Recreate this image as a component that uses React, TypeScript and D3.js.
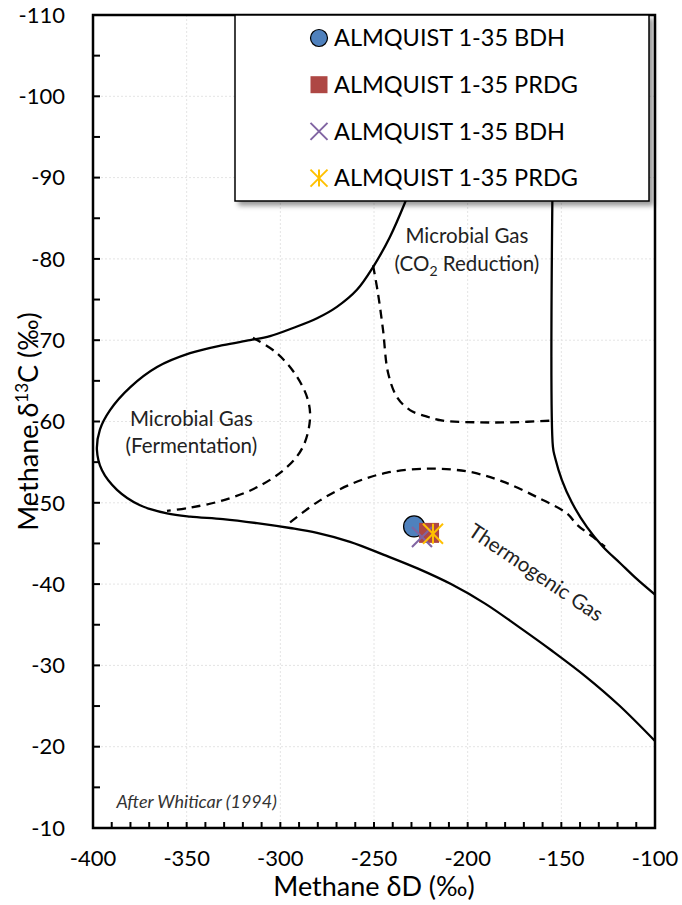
import { useEffect, useRef } from 'react';
import * as d3 from 'd3';

// Whiticar (1994) field boundaries, [deltaD, delta13C]
const outerBoundary: [number, number][] = [
  [-222.8, -93.4], [-233.5, -86.9], [-241.5, -82.7], [-250.5, -79.0], [-259.1, -76.2],
  [-269.8, -74.1], [-280.4, -72.7], [-293.2, -71.5], [-305.5, -70.5], [-316.2, -70.0],
  [-330.6, -69.4], [-348.2, -68.4], [-365.8, -66.7], [-380.2, -64.2], [-390.9, -61.4],
  [-396.3, -59.0], [-397.9, -56.5], [-395.2, -54.0], [-387.2, -51.6], [-374.9, -49.7],
  [-360.5, -48.7], [-348.2, -48.3], [-330.6, -48.0], [-312.5, -47.5], [-294.8, -46.9],
  [-280.4, -46.3], [-262.8, -45.2], [-244.7, -43.6], [-226.5, -41.9], [-208.9, -40.0],
  [-190.7, -37.6], [-173.1, -34.8], [-155.0, -31.8], [-136.8, -28.6], [-119.2, -25.1],
  [-100, -20.7],
];
const rightBoundary: [number, number][] = [
  [-154.5, -93.4], [-154.5, -56.9], [-153.4, -55.6], [-149.7, -52.8], [-144.3, -50.0],
  [-136.3, -47.0], [-127.8, -44.6], [-118.7, -42.6], [-109.6, -40.6], [-100, -38.7],
];
const fermentationDash: [number, number][] = [
  [-314.6, -70.3], [-301.8, -68.4], [-291.1, -65.5], [-285.2, -62.6], [-284.2, -60.2],
  [-287.9, -56.9], [-296.4, -54.4], [-312.5, -51.9], [-330.6, -50.3], [-348.2, -49.4],
  [-360.5, -49.0],
];
const co2Dash: [number, number][] = [
  [-250.5, -79.2], [-247.9, -75.8], [-245.2, -71.3], [-242.5, -66.0], [-237.7, -63.0],
  [-230.8, -61.4], [-221.7, -60.6], [-213.2, -60.1], [-195.0, -59.9], [-177.4, -59.9],
  [-155.5, -60.1],
];
const thermoDash: [number, number][] = [
  [-294.8, -47.6], [-278.8, -50.3], [-261.2, -52.4], [-243.1, -53.7], [-220.1, -54.2],
  [-198.8, -53.8], [-181.1, -52.6], [-163.0, -50.7], [-147.0, -48.7], [-141.6, -47.3],
  [-133.1, -45.8], [-126.7, -44.6],
];

const seriesNames = ['ALMQUIST 1-35 BDH', 'ALMQUIST 1-35 PRDG', 'ALMQUIST 1-35 BDH', 'ALMQUIST 1-35 PRDG'];
const seriesMarkers = ['circle', 'square', 'x', 'star'];
const seriesColors = ['#4F81BD', '#AE4744', '#8064A2', '#FFC000'];
const seriesPoints: [number, number][] = [[-228.6, -47.1], [-220.6, -46.3], [-224.4, -45.8], [-218.5, -46.2]];

const xTicks = [-400, -350, -300, -250, -200, -150, -100];
const yTicks = [-110, -100, -90, -80, -70, -60, -50, -40, -30, -20, -10];

const FONT = 'Lato, "Open Sans", sans-serif';

function drawMarker(g: d3.Selection<SVGGElement, unknown, null, undefined>, kind: string, color: string, cx: number, cy: number, s: number) {
  if (kind === 'circle') {
    g.append('circle').attr('cx', cx).attr('cy', cy).attr('r', s / 2).attr('fill', color).attr('stroke', '#000').attr('stroke-width', 1.2);
  } else if (kind === 'square') {
    g.append('rect').attr('x', cx - s / 2).attr('y', cy - s / 2).attr('width', s).attr('height', s).attr('fill', color);
  } else {
    const h = s / 2;
    const segs: [number, number, number, number][] = [[-h, -h, h, h], [-h, h, h, -h]];
    if (kind === 'star') segs.push([0, -h, 0, h]);
    segs.forEach(([a, b, c, d]) => {
      g.append('line').attr('x1', cx + a).attr('y1', cy + b).attr('x2', cx + c).attr('y2', cy + d)
        .attr('stroke', color).attr('stroke-width', 2);
    });
  }
}

export default function App() {
  const svgRef = useRef<SVGSVGElement>(null);

  useEffect(() => {
    document.body.style.margin = '0';
    if (!svgRef.current) return;
    const svg = d3.select(svgRef.current);
    svg.selectAll('*').remove();

    const left = 93, right = 655, top = 15, bottom = 828;
    const x = d3.scaleLinear().domain([-400, -100]).range([left, right]);
    const y = d3.scaleLinear().domain([-110, -10]).range([top, bottom]);

    const defs = svg.append('defs');
    const f = defs.append('filter').attr('id', 'shadow').attr('x', '-10%').attr('y', '-10%').attr('width', '130%').attr('height', '130%');
    f.append('feDropShadow').attr('dx', 4).attr('dy', 4).attr('stdDeviation', 2.5).attr('flood-color', '#000').attr('flood-opacity', 0.4);

    // Grid
    const grid = svg.append('g').attr('stroke', '#e4e4e4').attr('stroke-width', 1).attr('stroke-dasharray', '2,2');
    xTicks.slice(1, -1).forEach(t => grid.append('line').attr('x1', x(t)).attr('x2', x(t)).attr('y1', top).attr('y2', bottom));
    yTicks.slice(1, -1).forEach(t => grid.append('line').attr('x1', left).attr('x2', right).attr('y1', y(t)).attr('y2', y(t)));

    // Field boundaries
    const line = d3.line<[number, number]>().x(d => x(d[0])).y(d => y(d[1])).curve(d3.curveCatmullRom.alpha(0.5));
    const curves = svg.append('g').attr('fill', 'none').attr('stroke', '#000').attr('stroke-width', 2.3);
    [outerBoundary, rightBoundary].forEach(c => curves.append('path').attr('d', line(c)));
    [fermentationDash, co2Dash, thermoDash].forEach(c =>
      curves.append('path').attr('d', line(c)).attr('stroke-dasharray', '9,6'));

    // Field labels
    const lab = svg.append('g').attr('font-family', FONT).attr('font-size', 20.5).attr('fill', '#222').attr('text-anchor', 'middle');
    lab.append('text').attr('x', x(-347.5)).attr('y', y(-59.4)).text('Microbial Gas');
    lab.append('text').attr('x', x(-347.5)).attr('y', y(-56.1)).text('(Fermentation)');
    lab.append('text').attr('x', x(-200.4)).attr('y', y(-81.9)).text('Microbial Gas');
    const co2 = lab.append('text').attr('x', x(-200.4)).attr('y', y(-78.5));
    co2.append('tspan').text('(CO');
    co2.append('tspan').attr('font-size', 14).attr('dy', 5).text('2');
    co2.append('tspan').attr('dy', -5).text(' Reduction)');
    lab.append('text').attr('transform', `translate(${x(-165.6)},${y(-40.7)}) rotate(34)`).text('Thermogenic Gas');
    svg.append('text').attr('x', x(-387.5)).attr('y', y(-12.4)).attr('font-family', FONT).attr('font-size', 18)
      .attr('font-style', 'italic').attr('fill', '#333').text('After Whiticar (1994)');

    // Data points
    const pts = svg.append('g');
    seriesPoints.forEach((p, i) => {
      const s = seriesMarkers[i] === 'circle' ? 21 : 20;
      drawMarker(pts, seriesMarkers[i], seriesColors[i], x(p[0]), y(p[1]), s);
    });

    // Frame and ticks
    const axes = svg.append('g').attr('stroke', '#000');
    axes.append('rect').attr('x', left).attr('y', top).attr('width', right - left).attr('height', bottom - top)
      .attr('fill', 'none').attr('stroke-width', 2.5);
    d3.range(-400, -99, 10).forEach(t => axes.append('line').attr('x1', x(t)).attr('x2', x(t))
      .attr('y1', bottom).attr('y2', bottom - 6).attr('stroke-width', 2));
    d3.range(-110, -9, 5).forEach(t => axes.append('line').attr('x1', left).attr('x2', left + 7)
      .attr('y1', y(t)).attr('y2', y(t)).attr('stroke-width', 2));

    const tl = svg.append('g').attr('font-family', FONT).attr('font-size', 22).attr('fill', '#000');
    yTicks.forEach(t => tl.append('text').attr('x', left - 28).attr('y', y(t)).attr('dy', '0.35em')
      .attr('text-anchor', 'end').text(t));
    xTicks.forEach(t => tl.append('text').attr('x', x(t)).attr('y', 866).attr('text-anchor', 'middle').text(t));

    // Axis titles
    svg.append('text').attr('x', x(-250)).attr('y', 896).attr('text-anchor', 'middle')
      .attr('font-family', FONT).attr('font-size', 27).text('Methane δD (‰)');
    const yt = svg.append('text').attr('transform', `translate(38,${y(-60)}) rotate(-90)`).attr('text-anchor', 'middle')
      .attr('font-family', FONT).attr('font-size', 27);
    yt.append('tspan').text('Methane δ');
    yt.append('tspan').attr('font-size', 17).attr('dy', -10).text('13');
    yt.append('tspan').attr('dy', 10).text('C (‰)');

    // Legend
    const lg = svg.append('g');
    lg.append('rect').attr('x', 235).attr('y', 15).attr('width', 414).attr('height', 186)
      .attr('fill', '#fff').attr('stroke', '#000').attr('stroke-width', 1.5).attr('filter', 'url(#shadow)');
    seriesNames.forEach((name, i) => {
      const cy = 38 + i * 46.7;
      drawMarker(lg, seriesMarkers[i], seriesColors[i], 319, cy, 17);
      lg.append('text').attr('x', 334).attr('y', cy).attr('dy', '0.35em').attr('font-family', FONT)
        .attr('font-size', 23.5).attr('fill', '#000').text(name);
    });
  }, []);

  return (
    <div style={{ position: 'absolute', left: 0, top: 0 }}>
      <svg ref={svgRef} width={682} height={905} />
    </div>
  );
}
